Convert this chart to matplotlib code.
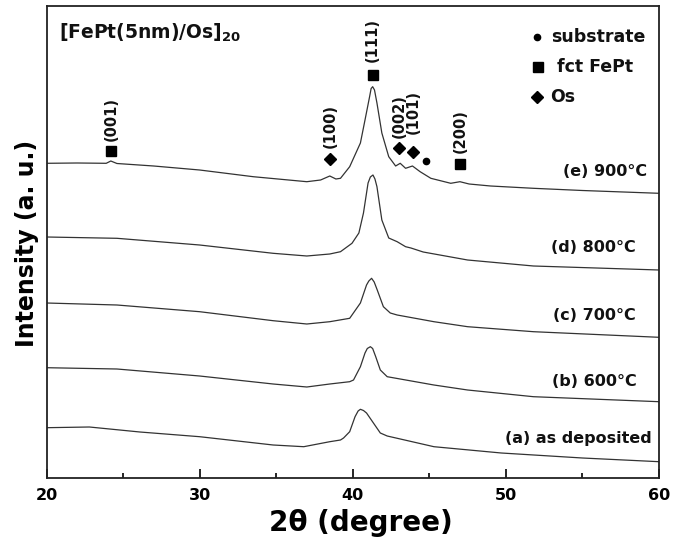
import matplotlib
matplotlib.use("Agg")
import matplotlib.pyplot as plt
from matplotlib.ticker import MultipleLocator

plt.rcParams['font.family'] = ['DejaVu Sans']
plt.rcParams['font.weight'] = 'bold'

# ---- data (2theta in degrees, intensity in arbitrary units) ----
tt_e = [20, 22, 23.9, 24.2, 24.6, 27, 30, 33.5, 37, 37.9, 38.5, 38.9, 39.2, 39.8, 40.5, 40.8,
        41.1, 41.2, 41.3, 41.42, 41.58, 41.9, 42.35, 42.8, 43.1, 43.45, 43.9, 44.4, 45.1, 46.4,
        47.0, 47.6, 49, 51.8, 55, 60]
i_e = [314.7, 315, 314.7, 317, 314.5, 312, 308, 301.3, 296.3, 298, 302, 299, 299.7, 311.3, 335, 358,
       381.3, 389.5, 391.3, 388, 375, 345, 321.3, 312, 314.7, 309.7, 312, 306.3, 299.7, 294.7,
       296.3, 294, 292, 289.7, 287.5, 284.7]

tt_d = [20, 24.6, 30, 34.8, 37, 38.5, 39.2, 39.95, 40.4, 40.7, 41.0, 41.15, 41.32, 41.45, 41.58,
        41.9, 42.35, 42.9, 43.45, 43.8, 44.6, 47.5, 51.8, 60]
i_d = [241, 239.7, 233, 224.7, 222, 224, 226.3, 234.7, 245, 265, 295, 301, 303, 299, 291.3,
       258, 240, 236.3, 231.3, 230, 226, 218, 212, 208]

tt_c = [20, 24.6, 30, 34.8, 37, 38.5, 39.8, 40.5, 40.9, 41.05, 41.23, 41.4, 41.6, 42.0, 42.45,
        42.9, 45.3, 47.5, 51.8, 60]
i_c = [175, 173, 166.3, 157.3, 154, 156.3, 159.7, 175, 193, 197, 199.7, 196, 188, 171.3, 165,
       163, 156.3, 151.3, 146.3, 140.7]

tt_b = [20, 24.6, 30, 34.8, 37, 38.5, 39.8, 40.05, 40.5, 40.8, 40.95, 41.15, 41.3, 41.5, 41.8,
        42.25, 45.3, 47.5, 51.8, 60]
i_b = [110.3, 109, 102, 94, 91, 94, 96.3, 98, 111.3, 125, 129.5, 131.3, 129.5, 121.3, 108,
       101.3, 93, 88, 81.3, 76.3]

tt_a = [20, 22.8, 26.1, 30, 34.8, 36.8, 38.5, 39.2, 39.4, 39.8, 40.15, 40.35, 40.5, 40.7, 40.9,
        41.35, 41.8, 42.25, 45.3, 49.7, 55, 60]
i_a = [50.3, 51, 46, 41.3, 33, 31.3, 36.3, 38, 40, 46.3, 61.3, 67, 68.7, 67.5, 65,
       55, 45, 42, 31.3, 25, 20, 16.3]

curve_labels = ["(e) 900\u00b0C", "(d) 800\u00b0C", "(c) 700\u00b0C", "(b) 600\u00b0C", "(a) as deposited"]
curve_label_x = [59.2, 58.45, 58.45, 58.55, 59.55]
curve_label_y = [306, 231, 163, 96, 40]

# peak annotations
peak_tt = [24.2, 38.51, 41.30, 43.02, 43.95, 44.78, 47.0]
peak_int = [327, 319, 403, 330, 326, 317, 314]
peak_marker = ['s', 'D', 's', 'D', 'D', 'o', 's']
peak_label = ["(001)", "(100)", "(111)", "(002)", "(101)", "", "(200)"]
peak_label_y = [359, 352, 438, 362, 366, 0, 347]

legend_labels = ["substrate", "fct FePt", "Os"]
legend_marker = ['o', 's', 'D']

fig = plt.figure(figsize=(6.83, 5.47), dpi=100)
ax = fig.add_axes([46.5 / 683, 69 / 547, (659 - 46.5) / 683, (478 - 6) / 547])

lc = '#333333'
for tt, ii in [(tt_e, i_e), (tt_d, i_d), (tt_c, i_c), (tt_b, i_b), (tt_a, i_a)]:
    ax.plot(tt, ii, color=lc, lw=0.9)

ax.set_xlim(20, 60)
ax.set_ylim(0, 472)

ax.xaxis.set_major_locator(MultipleLocator(10))
ax.xaxis.set_minor_locator(MultipleLocator(5))
ax.tick_params(axis='x', which='major', direction='in', length=6.5, width=1.2, labelsize=11.5, pad=7)
ax.tick_params(axis='x', which='minor', direction='in', length=3.6, width=1.2)
ax.tick_params(axis='y', left=False, labelleft=False)
for lab in ax.get_xticklabels():
    lab.set_fontweight('bold')
for sp in ax.spines.values():
    sp.set_linewidth(1.3)
    sp.set_color('#222222')

# curve labels
for lbl, x, y in zip(curve_labels, curve_label_x, curve_label_y):
    ax.text(x, y, lbl, ha='right', va='center', fontsize=11.5, fontweight='bold', color='#111111')

# peak markers and labels
msizes = {'s': 6.5, 'D': 6.0, 'o': 4.5}
for x, y, m, lbl, ly in zip(peak_tt, peak_int, peak_marker, peak_label, peak_label_y):
    ax.plot([x], [y], marker=m, ms=msizes[m], color='black', ls='none')
    if lbl:
        ax.text(x, ly, lbl, rotation=90, ha='center', va='center', fontsize=10.5,
                fontweight='bold', color='#111111')

# legend-like key
leg_x = [52.03, 52.1, 52.03]
leg_text_x = [52.95, 53.35, 52.9]
leg_y = [441, 411, 381]
for m, lbl, x, tx, y in zip(legend_marker, legend_labels, leg_x, leg_text_x, leg_y):
    ax.plot([x], [y], marker=m, ms=msizes[m], color='black', ls='none')
    ax.text(tx, y, lbl, ha='left', va='center', fontsize=12.5, fontweight='bold', color='#111111')

ax.text(20.8, 445, r"[FePt(5nm)/Os]$_{\mathbf{20}}$", ha='left', va='center', fontsize=13.5,
        fontweight='bold', color='#111111')

fig.text(27 / 683, 1 - 243.5 / 547, "Intensity (a. u.)", rotation=90, ha='center', va='center',
         fontsize=17, fontweight='bold')
fig.text(361 / 683, 1 - 523 / 547, "2\u03b8 (degree)", ha='center', va='center',
         fontsize=20, fontweight='bold')

fig.savefig("out.png", dpi=100)
